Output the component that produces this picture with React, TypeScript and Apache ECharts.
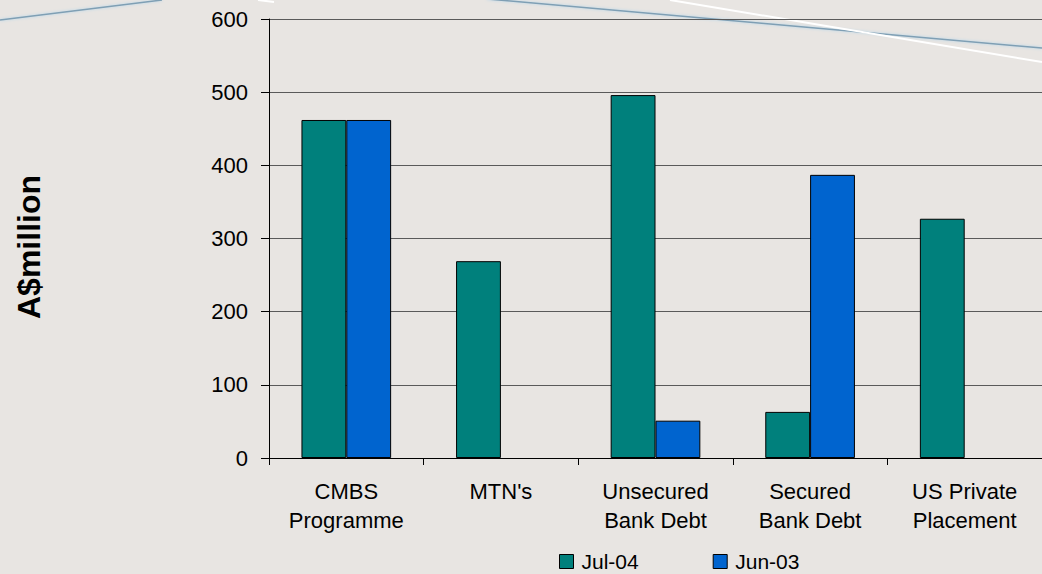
import React, { useEffect, useRef } from "react";
import * as echarts from "echarts";

const categories = [
  "CMBS\nProgramme",
  "MTN's",
  "Unsecured\nBank Debt",
  "Secured\nBank Debt",
  "US Private\nPlacement",
];
const jul04 = [462, 269, 496, 63, 327];
const jun03: (number | null)[] = [462, null, 51, 387, null];
const seriesNames = ["Jul-04", "Jun-03"];
const yTicks = { min: 0, max: 600, interval: 100 };
const yTitle = "A$million";

const FONT = "'Liberation Sans', Arial, Helvetica, sans-serif";

export default function App() {
  const ref = useRef<HTMLDivElement>(null);
  useEffect(() => {
    if (!ref.current) return;
    const chart = echarts.init(ref.current, undefined, { renderer: "svg" });
    chart.setOption({
      animation: false,
      backgroundColor: "#E8E5E2",
      textStyle: { fontFamily: FONT },
      grid: { left: 269, right: 0, top: 19, bottom: 116, containLabel: false },
      legend: {
        left: 554,
        top: 546,
        icon: "rect",
        itemWidth: 14,
        itemHeight: 14,
        itemGap: 74,
        textStyle: { fontSize: 21, color: "#000", fontFamily: FONT, padding: [0, 0, 0, 3] },
        itemStyle: { borderColor: "#000", borderWidth: 1 },
        data: seriesNames,
      },
      xAxis: {
        type: "category",
        data: categories,
        axisLine: { lineStyle: { color: "#000", width: 1 } },
        axisTick: { show: true, length: 7, lineStyle: { color: "#000" }, alignWithLabel: false },
        axisLabel: {
          color: "#000",
          fontSize: 22,
          lineHeight: 29,
          margin: 19,
          interval: 0,
          fontFamily: FONT,
        },
        splitLine: { show: false },
      },
      yAxis: {
        type: "value",
        min: yTicks.min,
        max: yTicks.max,
        interval: yTicks.interval,
        axisLine: { show: true, lineStyle: { color: "#000", width: 1 } },
        axisTick: { show: true, length: 8, lineStyle: { color: "#000" } },
        axisLabel: { color: "#000", fontSize: 22, margin: 21, fontFamily: FONT },
        splitLine: { show: true, lineStyle: { color: "#5a5a5a", width: 1.2 } },
      },
      graphic: [
        {
          type: "line",
          z: -1,
          shape: { x1: 0, y1: 20, x2: 162, y2: 0 },
          style: { stroke: "#7F9FB4", lineWidth: 1.5, shadowColor: "rgba(170,210,235,0.9)", shadowBlur: 3 },
        },
        {
          type: "line",
          z: -1,
          shape: { x1: 487, y1: -1, x2: 1042, y2: 48 },
          style: { stroke: "#7F9FB4", lineWidth: 1.5, shadowColor: "rgba(170,210,235,0.9)", shadowBlur: 3 },
        },
        {
          type: "line",
          z: -1,
          shape: { x1: 670, y1: 0, x2: 1042, y2: 62 },
          style: { stroke: "#FFFFFF", lineWidth: 2 },
        },
        {
          type: "line",
          z: -1,
          shape: { x1: 258, y1: 0, x2: 274, y2: 2 },
          style: { stroke: "#FFFFFF", lineWidth: 2 },
        },
        {
          type: "text",
          x: 29,
          y: 247,
          rotation: Math.PI / 2,
          style: {
            text: yTitle,
            fontSize: 32,
            fontWeight: "bold",
            fontFamily: FONT,
            fill: "#000",
            align: "center",
            verticalAlign: "middle",
          },
        },
      ],
      series: [
        {
          name: seriesNames[0],
          type: "bar",
          data: jul04,
          barGap: "0%",
          barCategoryGap: "42%",
          itemStyle: { color: "#00807C", borderColor: "#000", borderWidth: 1 },
        },
        {
          name: seriesNames[1],
          type: "bar",
          data: jun03,
          barGap: "0%",
          barCategoryGap: "42%",
          itemStyle: { color: "#0064CF", borderColor: "#000", borderWidth: 1 },
        },
      ],
    });
    return () => chart.dispose();
  }, []);
  return (
    <div
      ref={ref}
      style={{ position: "absolute", left: 0, top: 0, width: 1042, height: 574 }}
    />
  );
}
